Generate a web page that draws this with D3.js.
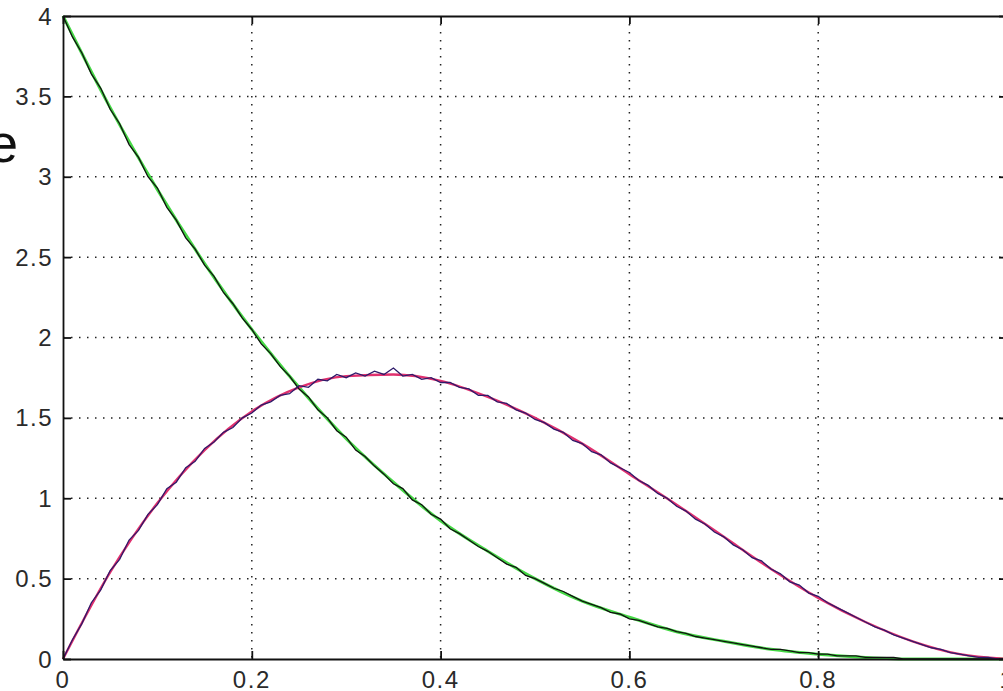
<!DOCTYPE html>
<html>
<head>
<meta charset="utf-8">
<script src="https://cdn.jsdelivr.net/npm/d3@7"></script>
<style>
body { margin: 0; background: #fff; }
svg { display: block; }
.tick-label { font-family: Arial, "Liberation Sans", sans-serif; font-size: 24px; letter-spacing: 1.5px; fill: #2a2a2a; }
</style>
</head>
<body>
<svg id="fig" width="1003" height="691"></svg>
<script>
// tick values
const xTicks = [0, 0.2, 0.4, 0.6, 0.8, 1];
const yTicks = [0, 0.5, 1, 1.5, 2, 2.5, 3, 3.5, 4];

// smooth curves, read every 0.05
const xSmooth = [0, 0.05, 0.1, 0.15, 0.2, 0.25, 0.3, 0.35, 0.4, 0.45, 0.5,
  0.55, 0.6, 0.65, 0.7, 0.75, 0.8, 0.85, 0.9, 0.95, 1];
const greenSmooth = [4.00, 3.43, 2.92, 2.46, 2.05, 1.69, 1.37, 1.10, 0.86, 0.67, 0.50,
  0.36, 0.26, 0.17, 0.11, 0.06, 0.03, 0.01, 0.00, 0.00, 0.00];
const redSmooth = [0.00, 0.54, 0.97, 1.30, 1.54, 1.69, 1.76, 1.77, 1.73, 1.63, 1.50,
  1.34, 1.15, 0.96, 0.76, 0.56, 0.38, 0.23, 0.11, 0.03, 0.00];

// noisy estimates, read every 0.01
const xNoisy = d3.range(0, 101).map(i => i / 100);
const blackNoisy = [
  4.00, 3.87, 3.77, 3.64, 3.55, 3.42, 3.33, 3.20, 3.12, 3.00,
  2.93, 2.81, 2.73, 2.62, 2.55, 2.45, 2.38, 2.28, 2.21, 2.12,
  2.05, 1.96, 1.90, 1.82, 1.76, 1.68, 1.63, 1.55, 1.50, 1.42,
  1.38, 1.30, 1.26, 1.20, 1.15, 1.09, 1.06, 0.99, 0.96, 0.90,
  0.87, 0.81, 0.78, 0.74, 0.70, 0.67, 0.63, 0.59, 0.57, 0.52,
  0.50, 0.47, 0.44, 0.42, 0.39, 0.36, 0.34, 0.32, 0.29, 0.28,
  0.25, 0.24, 0.22, 0.20, 0.19, 0.17, 0.16, 0.14, 0.13, 0.12,
  0.11, 0.10, 0.09, 0.08, 0.07, 0.06, 0.06, 0.05, 0.04, 0.04,
  0.03, 0.03, 0.02, 0.02, 0.02, 0.01, 0.01, 0.01, 0.01, 0.00,
  0.00, 0.00, 0.00, 0.00, 0.00, 0.00, 0.00, 0.00, 0.00, 0.00, 0.00];
const blueNoisy = [
  0.00, 0.12, 0.22, 0.35, 0.43, 0.55, 0.62, 0.74, 0.80, 0.90,
  0.96, 1.06, 1.10, 1.19, 1.23, 1.31, 1.35, 1.41, 1.44, 1.50,
  1.53, 1.58, 1.60, 1.64, 1.65, 1.70, 1.69, 1.74, 1.73, 1.77,
  1.75, 1.78, 1.76, 1.79, 1.77, 1.81, 1.76, 1.77, 1.74, 1.75,
  1.72, 1.72, 1.69, 1.68, 1.64, 1.64, 1.60, 1.59, 1.55, 1.53,
  1.49, 1.47, 1.43, 1.41, 1.36, 1.34, 1.29, 1.27, 1.22, 1.19,
  1.16, 1.11, 1.08, 1.03, 1.00, 0.95, 0.92, 0.87, 0.84, 0.79,
  0.76, 0.71, 0.68, 0.63, 0.61, 0.56, 0.53, 0.48, 0.46, 0.41,
  0.39, 0.35, 0.32, 0.29, 0.26, 0.23, 0.20, 0.18, 0.15, 0.13,
  0.11, 0.09, 0.07, 0.06, 0.04, 0.03, 0.02, 0.01, 0.01, 0.00, 0.00];

const plotLeft = 63, plotRight = 1007, plotTop = 16, plotBottom = 659;

const x = d3.scaleLinear().domain([0, 1]).range([plotLeft, plotRight]);
const y = d3.scaleLinear().domain([0, 4]).range([plotBottom, plotTop]);

const svg = d3.select("#fig");

// cut-off label at the far left
svg.append("text")
  .attr("x", 18).attr("y", 162)
  .attr("text-anchor", "end")
  .style("font-family", "Arial, 'Liberation Sans', sans-serif")
  .style("font-size", "54px")
  .style("fill", "#111")
  .text("e");

// dotted grid
svg.append("g").selectAll("line")
  .data(xTicks.filter(d => d > 0 && d < 1))
  .join("line")
  .attr("x1", d => x(d)).attr("x2", d => x(d))
  .attr("y1", plotTop).attr("y2", plotBottom)
  .attr("stroke", "#222").attr("stroke-width", 1.5)
  .attr("stroke-dasharray", "1.5,6.5");

svg.append("g").selectAll("line")
  .data(yTicks.filter(d => d > 0 && d < 4))
  .join("line")
  .attr("x1", plotLeft).attr("x2", plotRight)
  .attr("y1", d => y(d)).attr("y2", d => y(d))
  .attr("stroke", "#222").attr("stroke-width", 1.5)
  .attr("stroke-dasharray", "1.5,6.5");

// curves
const smoothLine = d3.line()
  .x((d, i) => x(xSmooth[i])).y(d => y(d))
  .curve(d3.curveMonotoneX);
const noisyLine = d3.line()
  .x((d, i) => x(xNoisy[i])).y(d => y(d));

svg.append("path").datum(greenSmooth)
  .attr("d", smoothLine).attr("fill", "none")
  .attr("stroke", "#45d845").attr("stroke-width", 3);
svg.append("path").datum(redSmooth)
  .attr("d", smoothLine).attr("fill", "none")
  .attr("stroke", "#e0306e").attr("stroke-width", 2.4);
svg.append("path").datum(blackNoisy)
  .attr("d", noisyLine).attr("fill", "none")
  .attr("stroke", "#111").attr("stroke-width", 1.3);
svg.append("path").datum(blueNoisy)
  .attr("d", noisyLine).attr("fill", "none")
  .attr("stroke", "#2e1a6a").attr("stroke-width", 1.3);

// axes with inward ticks, MATLAB style
const xAxisB = d3.axisBottom(x).tickValues(xTicks).tickSizeInner(-8).tickSizeOuter(0).tickFormat("");
const xAxisT = d3.axisTop(x).tickValues(xTicks).tickSizeInner(-8).tickSizeOuter(0).tickFormat("");
const yAxisL = d3.axisLeft(y).tickValues(yTicks).tickSizeInner(-8).tickSizeOuter(0).tickFormat("");
const yAxisR = d3.axisRight(y).tickValues(yTicks).tickSizeInner(-8).tickSizeOuter(0).tickFormat("");

[
  [xAxisB, `translate(0,${plotBottom})`],
  [xAxisT, `translate(0,${plotTop})`],
  [yAxisL, `translate(${plotLeft},0)`],
  [yAxisR, `translate(${plotRight},0)`]
].forEach(([ax, tr]) => {
  const g = svg.append("g").attr("transform", tr).call(ax);
  g.selectAll("path, line").attr("stroke", "#111").attr("stroke-width", 1.8);
});

// tick labels
svg.append("g").selectAll("text")
  .data(xTicks)
  .join("text")
  .attr("class", "tick-label")
  .attr("x", d => x(d)).attr("y", 688)
  .attr("text-anchor", "middle")
  .text(d => d3.format("")(d));

svg.append("g").selectAll("text")
  .data(yTicks)
  .join("text")
  .attr("class", "tick-label")
  .attr("x", 53).attr("y", d => y(d) + 8.5)
  .attr("text-anchor", "end")
  .text(d => d3.format("")(d));
</script>
</body>
</html>
